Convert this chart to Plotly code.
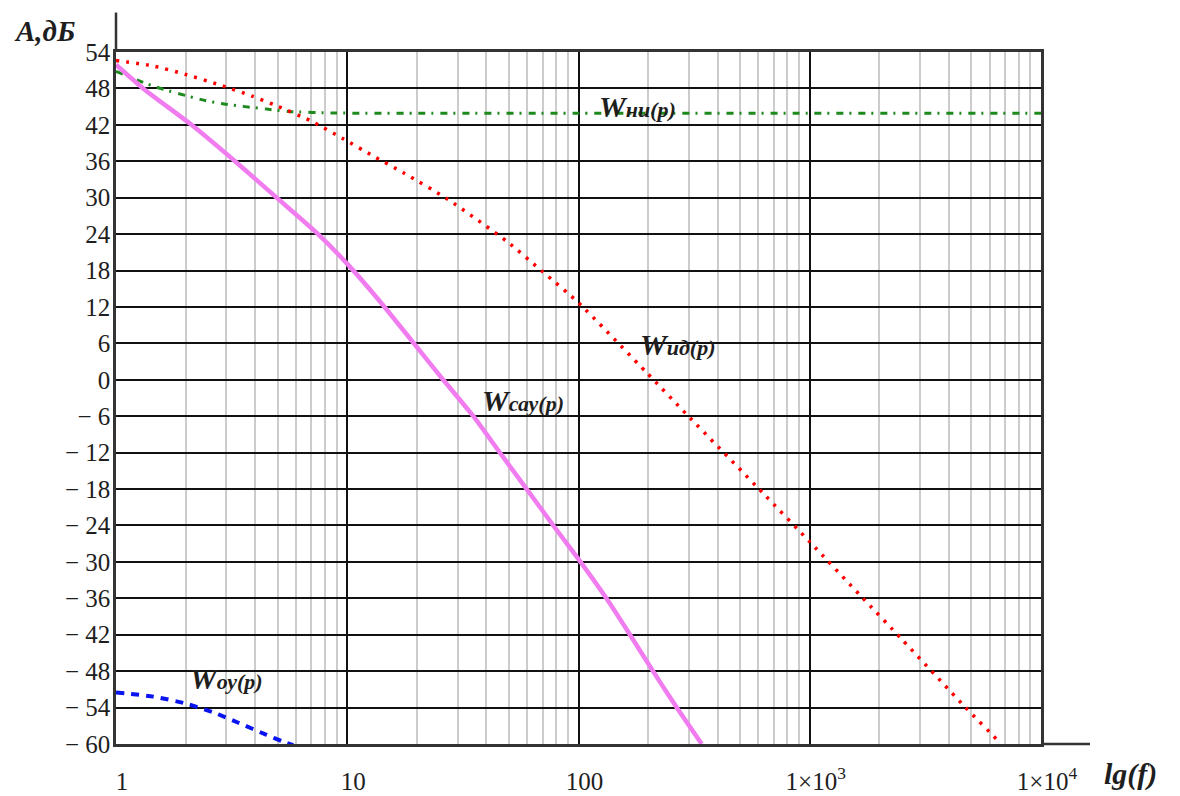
import plotly.graph_objects as go

# ---- data ----
f_ni = [1, 1.47, 2.31, 2.86, 3.61, 4.48, 5.56, 8.85, 20, 100, 1000, 10000]
db_ni = [50.8, 48.3, 46.2, 45.5, 45.0, 44.6, 44.2, 43.95, 43.9, 43.9, 43.9, 43.9]

f_id = [1, 1.45, 2, 2.8, 3.9, 4.8, 7, 9.6, 12.9, 17.5, 27.3, 49, 70, 100, 198, 297,
        629, 1000, 1680, 2495, 4720, 6423, 6700]
db_id = [52.6, 51.7, 50.3, 48.6, 46.7, 45.35, 42.6, 39.7, 36.9, 34.1, 29.7, 22.8, 17.8,
         12.7, 1.1, -5.9, -18.7, -26.7, -35.8, -42.7, -54.0, -59.2, -59.9]

f_sau = [1, 1.31, 2.12, 3.27, 4.95, 7.38, 10, 14, 26, 35.1, 45.7, 59.7, 77.8, 102,
         132, 167, 210, 266, 341]
db_sau = [51.9, 48, 42, 36, 30, 24.2, 19.1, 12.7, 0, -6, -12, -18, -24, -30, -36, -42,
          -48, -54, -60]

f_oy = [1, 1.45, 1.99, 2.64, 3.38, 4.48, 5.26, 5.84]
db_oy = [-51.5, -52.2, -53.3, -54.8, -56.5, -58.5, -59.6, -60.2]

x_major = [1, 10, 100, 1000, 10000]
x_major_text = ["1", "10", "100", "1×10<sup>3</sup>", "1×10<sup>4</sup>"]
x_minor = [m * d for d in [1, 10, 100, 1000] for m in range(2, 10)]
y_ticks = list(range(-60, 55, 6))
y_ticktext = [("− " + str(-v)) if v < 0 else str(v) for v in y_ticks]

FONT = "Liberation Serif"
TXT = "#1e1e1e"

fig = go.Figure()
fig.add_trace(go.Scatter(x=f_ni, y=db_ni, mode="lines",
                         line=dict(color="#1e8a1e", width=3, dash="7px,6px,2px,7px", shape="spline", smoothing=0.6)))
fig.add_trace(go.Scatter(x=f_id, y=db_id, mode="lines",
                         line=dict(color="#ff0000", width=3.5, dash="3px,7px", shape="spline", smoothing=0.6)))
fig.add_trace(go.Scatter(x=f_sau, y=db_sau, mode="lines",
                         line=dict(color="#f07cf0", width=4.5, shape="spline", smoothing=0.6)))
fig.add_trace(go.Scatter(x=f_oy, y=db_oy, mode="lines",
                         line=dict(color="#0a14f0", width=4, dash="8px,7px", shape="spline", smoothing=0.6)))


def lbl(sub):
    return ("<b><i>W</i></b><b><i><span style='font-size:22px'>" + sub + "</span></i></b>")


labels = [
    (2.080, 45.1, "ни(p)"),
    (2.257, 5.8, "ид(p)"),
    (1.574, -3.4, "сау(p)"),
    (0.311, -49.2, "оу(p)"),
]
annotations = []
for lx, ly, sub in labels:
    annotations.append(dict(x=lx, y=ly, xref="x", yref="y", text=lbl(sub), showarrow=False,
                            xanchor="left", yanchor="middle",
                            font=dict(family=FONT, size=30, color=TXT)))
annotations.append(dict(x=-0.1124, y=1.03, xref="paper", yref="paper", text="<b><i>A,дБ</i></b>",
                        showarrow=False, xanchor="left", yanchor="middle",
                        font=dict(family=FONT, size=29, color=TXT)))
annotations.append(dict(x=1.066, y=-0.043, xref="paper", yref="paper", text="<b><i>lg(f)</i></b>",
                        showarrow=False, xanchor="left", yanchor="middle",
                        font=dict(family=FONT, size=30, color=TXT)))

# the page body has an 8px margin, so the figure is offset by it
fig.update_layout(
    width=1172, height=788,
    margin=dict(l=108, r=139, t=44, b=52, autoexpand=False),
    paper_bgcolor="white", plot_bgcolor="white",
    showlegend=False,
    font=dict(family=FONT, color=TXT),
    annotations=annotations,
    shapes=[
        dict(type="line", xref="paper", yref="paper", x0=0, x1=0, y0=1, y1=1.057,
             line=dict(color="#333333", width=2.5)),
        dict(type="line", xref="paper", yref="paper", x0=1, x1=1.053, y0=0, y1=0,
             line=dict(color="#333333", width=2.5)),
    ],
)
fig.update_xaxes(
    type="log", range=[0, 4], automargin=False,
    tickvals=x_major, ticktext=x_major_text,
    showgrid=True, gridcolor="#111111", gridwidth=2,
    minor=dict(tickvals=x_minor, showgrid=True, gridcolor="#cccccc", gridwidth=2, ticks=""),
    showline=True, linecolor="#333333", linewidth=2.5, mirror=True,
    ticks="", ticklen=0, ticklabelstandoff=13, ticklabelshift=6,
    tickfont=dict(family=FONT, size=25, color=TXT),
    zeroline=False,
)
fig.update_yaxes(
    range=[-60, 54], automargin=False,
    tickvals=y_ticks, ticktext=y_ticktext,
    showgrid=True, gridcolor="#111111", gridwidth=2,
    showline=True, linecolor="#333333", linewidth=2.5, mirror=True,
    ticks="", ticklen=0, ticklabelstandoff=-2,
    tickfont=dict(family=FONT, size=25, color=TXT),
    zeroline=False,
)

fig.write_html("out.html")
